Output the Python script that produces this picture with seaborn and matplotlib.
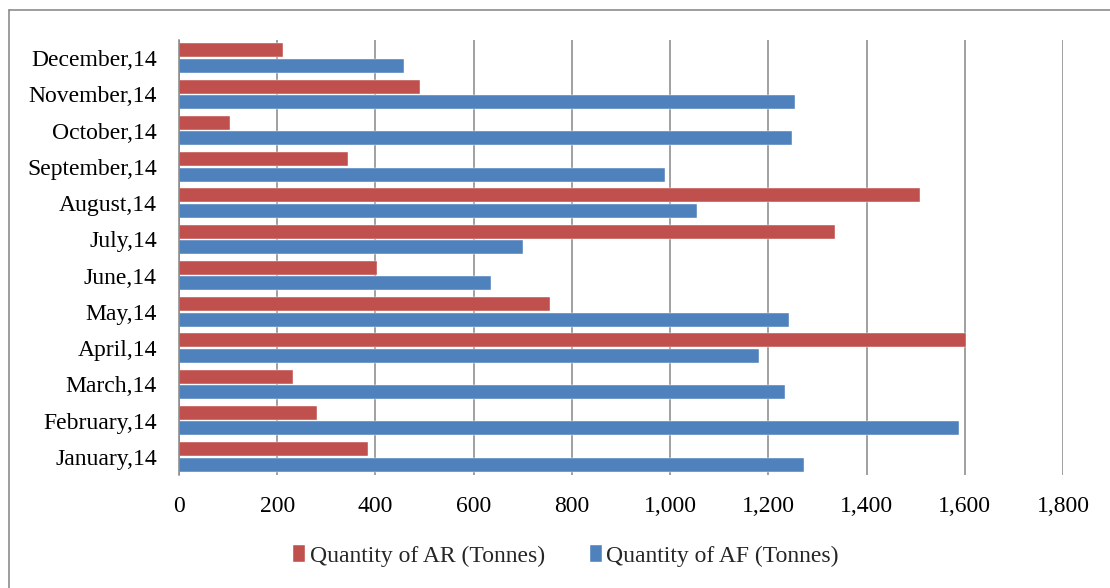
import matplotlib
matplotlib.use("Agg")
import matplotlib.pyplot as plt
from matplotlib.lines import Line2D
from matplotlib.ticker import FuncFormatter
import seaborn as sns
import pandas as pd

# Monthly quantities, top row of the chart first
months = ["December,14", "November,14", "October,14", "September,14",
          "August,14", "July,14", "June,14", "May,14", "April,14",
          "March,14", "February,14", "January,14"]
qty_ar = [211, 490, 104, 344, 1508, 1336, 403, 756, 1602, 232, 280, 385]
qty_af = [458, 1255, 1249, 990, 1054, 701, 635, 1243, 1180, 1233, 1588, 1272]
series = ["Quantity of AR (Tonnes)", "Quantity of AF (Tonnes)"]
colors = ["#C0504D", "#4F81BD"]
x_ticks = [0, 200, 400, 600, 800, 1000, 1200, 1400, 1600, 1800]

df = pd.DataFrame({
    "month": months * 2,
    "value": qty_ar + qty_af,
    "series": [series[0]] * len(months) + [series[1]] * len(months),
})

sns.set_theme(style="white")
plt.rcParams["font.family"] = ["Liberation Serif", "DejaVu Serif"]
FS = 17

W, H = 1110, 588
fig = plt.figure(figsize=(W / 100, H / 100), dpi=100)
ax = fig.add_axes([179 / W, 1 - 475 / H, (1063 - 179) / W, (475 - 40) / H])

sns.barplot(data=df, x="value", y="month", hue="series", order=months,
            hue_order=series, palette=colors, orient="h", width=0.85,
            gap=0.1, edgecolor="white", linewidth=0.3, saturation=1,
            ax=ax)

ax.set_xlim(0, 1800)
ax.set_ylim(len(months) - 0.5, -0.5)
ax.set_xticks(x_ticks)
ax.xaxis.set_major_formatter(FuncFormatter(lambda v, p: f"{v:,.0f}"))
ax.set_xlabel("")
ax.set_ylabel("")
ax.grid(axis="x", color="#868686", linewidth=1.1)
ax.grid(axis="y", visible=False)
ax.set_axisbelow(True)
for side in ["top", "right", "bottom"]:
    ax.spines[side].set_visible(False)
ax.spines["left"].set_color("#868686")
ax.spines["left"].set_linewidth(1.1)
ax.tick_params(axis="x", length=0, pad=15, labelsize=FS, colors="black")
ax.tick_params(axis="y", length=0, pad=16, labelsize=FS, colors="black")

handles, labels = ax.get_legend_handles_labels()
ax.legend_.remove()
fig.legend(handles, labels, loc="center", bbox_to_anchor=(566 / W, 1 - 556 / H),
           ncol=2, frameon=False, fontsize=FS, handlelength=0.5,
           handleheight=0.7, handletextpad=0.2, columnspacing=1.9)

# outer chart frame
frame_kw = dict(color="#8c8c8c", linewidth=1.2, transform=fig.transFigure)
fig.add_artist(Line2D([8.5 / W, 1.0], [1 - 10 / H, 1 - 10 / H], **frame_kw))
fig.add_artist(Line2D([8.5 / W, 8.5 / W], [0.0, 1 - 10 / H], **frame_kw))

fig.savefig("out.png", dpi=100, facecolor="white")
